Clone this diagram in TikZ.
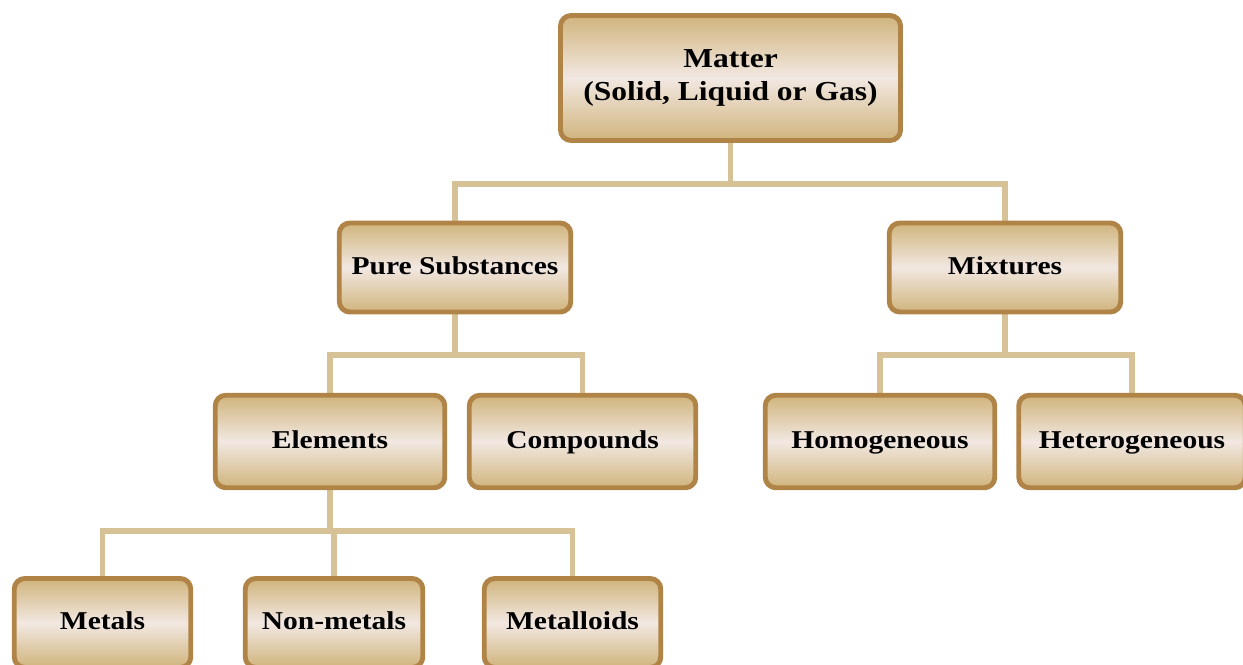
\documentclass[tikz,border=0pt]{standalone}
\usepackage{fontspec}
\setmainfont{Liberation Serif}[FakeStretch=1.15]
\usepackage{tikz}
\usetikzlibrary{positioning,backgrounds}
\definecolor{boxEdge}{RGB}{176,132,70}
\definecolor{boxTan}{RGB}{208,180,124}
\definecolor{boxLight}{RGB}{242,232,226}
\definecolor{linkTan}{RGB}{214,194,150}

\tikzset{
  matbox/.style={draw=boxEdge, line width=2.8pt, rounded corners=6pt,
    top color=boxTan, bottom color=boxTan, middle color=boxLight,
    align=center, font=\bfseries\fontsize{14.6}{18}\selectfont,
    text height=2.0ex, text depth=0.3ex,
    inner sep=2pt, minimum height=1.78cm},
  link/.style={linkTan, line width=3.4pt}
}

\begin{document}
\begin{tikzpicture}
  \useasboundingbox (0,0) rectangle (24.86,-13.28);

  % Top level
  \node[matbox, minimum width=6.8cm, minimum height=2.5cm, text height=,
        text depth=, font=\bfseries\fontsize{15.6}{18.5}\selectfont] (matter) at (14.61,-1.56)
    {Matter\\(Solid, Liquid or Gas)};

  % Second level
  \node[matbox, minimum width=4.63cm] (pure) at (9.10,-5.35) {Pure Substances};
  \node[matbox, minimum width=4.63cm] (mix) at (20.10,-5.35) {Mixtures};

  % Third level
  \node[matbox, minimum width=4.59cm, minimum height=1.85cm] (elem) at (6.60,-8.83) {Elements};
  \node[matbox, minimum width=4.53cm, minimum height=1.85cm] (comp) at (11.65,-8.83) {Compounds};
  \node[matbox, minimum width=4.59cm, minimum height=1.85cm] (homo) at (17.60,-8.83) {Homogeneous};
  \node[matbox, minimum width=4.53cm, minimum height=1.85cm] (hetero) at (22.64,-8.83) {Heterogeneous};

  % Elements
  \node[matbox, minimum width=3.53cm] (metals) at (2.05,-12.46) {Metals};
  \node[matbox, minimum width=3.55cm] (nonmet) at (6.68,-12.46) {Non-metals};
  \node[matbox, minimum width=3.53cm] (metalloid) at (11.45,-12.46) {Metalloids};

  % Connectors
  \begin{scope}[on background layer]
    \foreach \p/\c in {matter/pure, matter/mix, pure/elem, pure/comp, mix/homo,
                       mix/hetero, elem/metals, elem/nonmet, elem/metalloid}
      \draw[link] (\p.south) -- ++(0,-0.82) -| (\c.north);
  \end{scope}
\end{tikzpicture}
\end{document}
